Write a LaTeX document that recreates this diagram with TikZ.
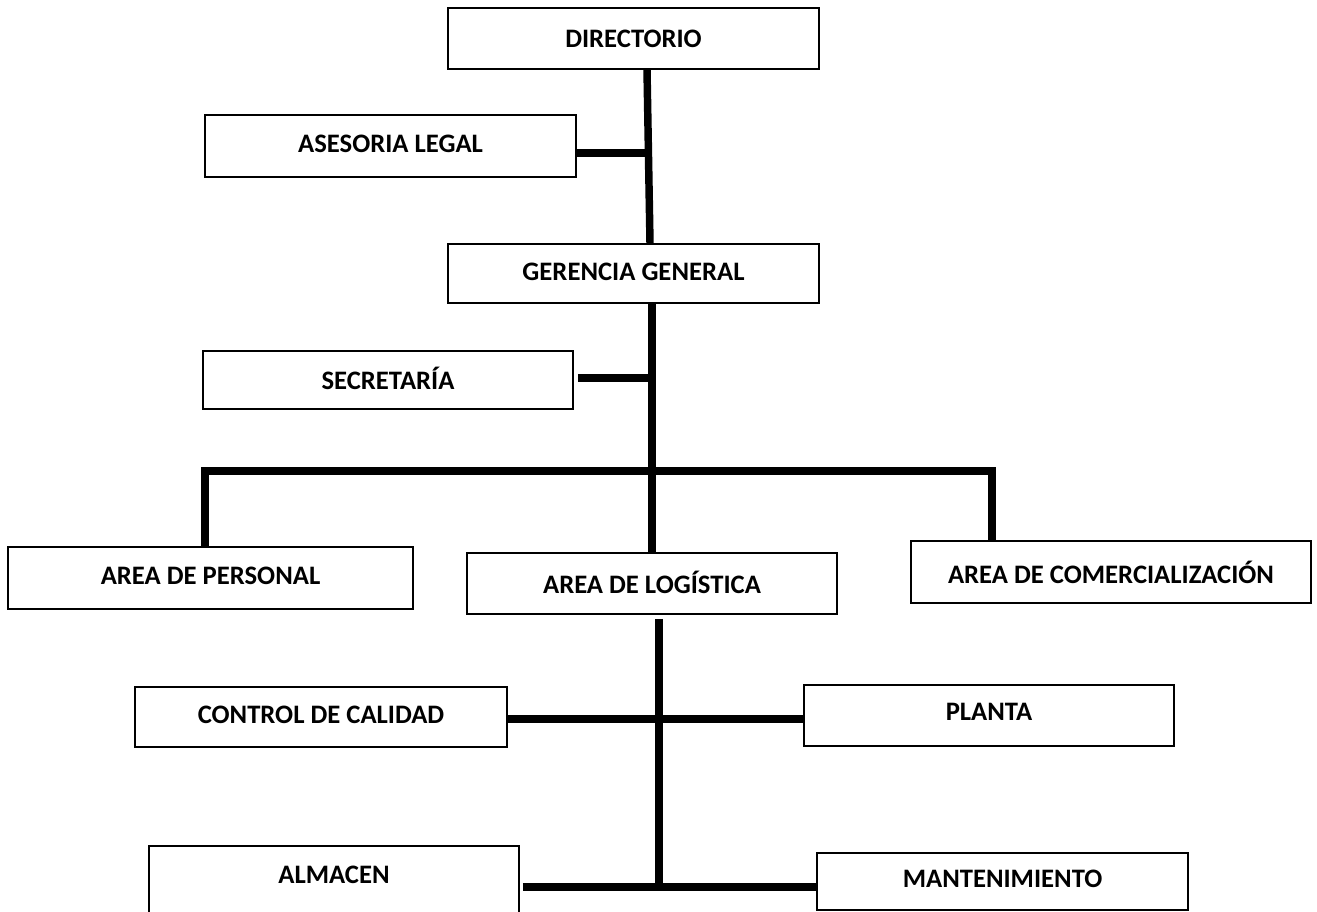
\documentclass[tikz,border=0pt]{standalone}
\usepackage{fontspec}
\setmainfont{Carlito}
\begin{document}
\begin{tikzpicture}[x=0.75pt,y=-0.75pt,
  box/.style={draw=black,line width=1.2pt,rectangle,inner sep=0pt,
    font=\fontsize{20}{24}\selectfont\bfseries,text=black},
  conn/.style={draw=black,line width=5.6pt,line cap=butt,line join=miter}]
\clip (0,0) rectangle (1317,912);
\fill[white] (0,0) rectangle (1317,912);
% boxes
\node[box,minimum width=371*0.75pt,minimum height=61*0.75pt] (dir) at (633.5,38.5) {DIRECTORIO};
\node[box,minimum width=371*0.75pt,minimum height=62*0.75pt,text depth=4pt] (ase) at (390.5,146) {ASESORIA LEGAL};
\node[box,minimum width=371*0.75pt,minimum height=59*0.75pt,text depth=2pt] (ger) at (633.5,273.5) {GERENCIA GENERAL};
\node[box,minimum width=370*0.75pt,minimum height=58*0.75pt,text depth=2pt] (sec) at (388,380) {SECRETARÍA};
\node[box,minimum width=405*0.75pt,minimum height=62*0.75pt,text depth=4pt] (per) at (210.5,578) {AREA DE PERSONAL};
\node[box,minimum width=370*0.75pt,minimum height=61*0.75pt,text depth=2pt] (log) at (652,583.5) {AREA DE LOGÍSTICA};
\node[box,minimum width=400*0.75pt,minimum height=62*0.75pt] (com) at (1111,572) {AREA DE COMERCIALIZACIÓN};
\node[box,minimum width=372*0.75pt,minimum height=60*0.75pt,text depth=3pt] (cal) at (321,717) {CONTROL DE CALIDAD};
\node[box,minimum width=370*0.75pt,minimum height=61*0.75pt,text depth=5pt] (pla) at (989,715.5) {PLANTA};
\node[box,minimum width=370*0.75pt,minimum height=80*0.75pt,text depth=16.5pt] (alm) at (334,886) {ALMACEN};
\node[box,minimum width=371*0.75pt,minimum height=57*0.75pt,text depth=4pt] (man) at (1002.5,881.5) {MANTENIMIENTO};
% junction coordinates
\coordinate (d1) at (647,71);
\coordinate (d2) at (650,240);
\coordinate (ja) at (648.5,153);
\coordinate (js) at (648,378);
\coordinate (gx) at (652,0);
\coordinate (bl) at (205,471);
\coordinate (br) at (992,471);
\coordinate (jl) at (659,719);
\coordinate (jb) at (659,887);
% connectors
\draw[conn] (dir.south -| d1) -- (ger.north -| d2);
\draw[conn] (ase.east |- ja) -- (ja);
\draw[conn] (ger.south -| gx) -- (log.north -| gx);
\draw[conn] ([xshift=3pt]sec.east |- js) -- (js);
\draw[conn] (per.north -| bl) -- (bl) -- (br) -- (com.north -| br);
\draw[conn] ([yshift=-3pt]log.south -| jb) -- (jb);
\draw[conn] (cal.east |- jl) -- (pla.west |- jl);
\draw[conn] ([xshift=2.25pt]alm.east |- jb) -- (man.west |- jb);
\end{tikzpicture}
\end{document}
